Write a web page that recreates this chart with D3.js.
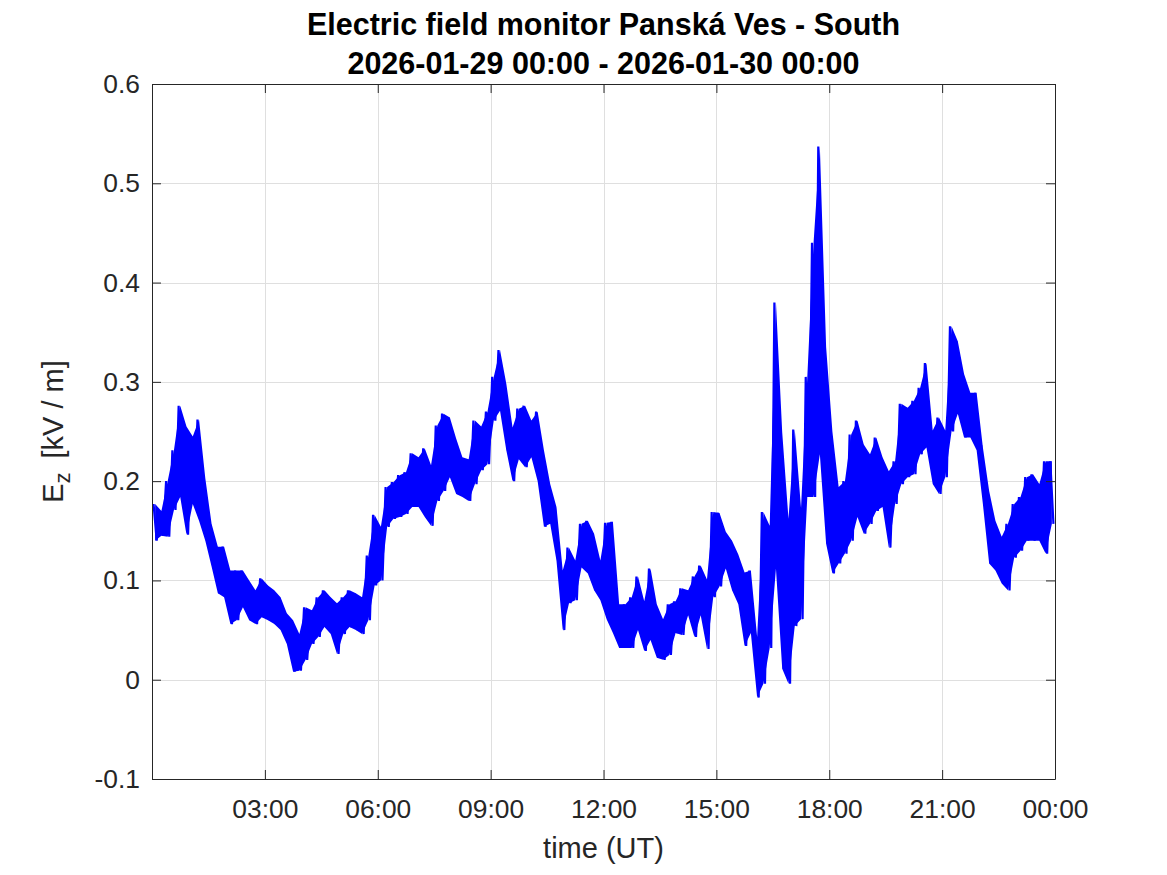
<!DOCTYPE html>
<html><head><meta charset="utf-8">
<script src="https://cdn.jsdelivr.net/npm/d3@7"></script>
<style>
body{margin:0;background:#fff}
svg{display:block}
text{font-family:"Liberation Sans",Arial,Helvetica,sans-serif}
</style>
</head><body>
<svg id="chart" width="1167" height="875"></svg>
<script>
const titleLines = ["Electric field monitor Panská Ves - South", "2026-01-29 00:00 - 2026-01-30 00:00"];
const xLabel = "time (UT)";
const yTicks = [-0.1, 0, 0.1, 0.2, 0.3, 0.4, 0.5, 0.6];
const yTickLabels = ["-0.1", "0", "0.1", "0.2", "0.3", "0.4", "0.5", "0.6"];
const xTickHours = [3, 6, 9, 12, 15, 18, 21, 24];
const xTickLabels = ["03:00", "06:00", "09:00", "12:00", "15:00", "18:00", "21:00", "00:00"];
const binMinutes = 10;
// per 10-minute bin: upper and lower envelope of Ez [kV/m]
const ezHigh = [
0.177,0.170,0.200,0.231,0.276,0.255,0.245,0.262,0.203,0.157,0.134,0.134,0.110,0.110,0.110,0.100,0.090,0.102,0.095,0.090,0.083,0.067,0.060,0.046,
0.073,0.070,0.083,0.090,0.083,0.077,0.083,0.090,0.087,0.083,0.125,0.166,
0.154,0.194,0.199,0.206,0.209,0.228,0.224,0.233,0.216,0.256,0.268,0.264,0.243,0.224,0.222,0.261,0.255,0.270,
0.305,0.332,0.298,0.254,0.273,0.276,0.261,0.270,0.231,0.197,0.174,0.110,0.133,0.120,0.157,0.160,0.147,0.120,
0.158,0.159,0.076,0.076,0.083,0.104,0.079,0.112,0.076,0.061,0.076,0.079,0.092,0.090,0.104,0.115,0.101,0.169,
0.168,0.149,0.140,0.126,0.108,0.110,0.043,0.169,0.155,0.380,0.249,0.162,0.252,0.173,0.305,0.440,0.537,0.335,
0.250,0.194,0.200,0.247,0.261,0.237,0.227,0.244,0.224,0.210,0.220,0.278,0.274,0.281,0.294,0.319,0.251,0.264,
0.251,0.356,0.341,0.308,0.289,0.289,0.234,0.190,0.160,0.144,0.157,0.177,0.184,0.204,0.207,0.197,0.220,0.220
];
const ezLow = [
0.140,0.145,0.144,0.171,0.184,0.146,0.177,0.160,0.140,0.114,0.087,0.083,0.056,0.060,0.073,0.060,0.056,0.063,0.060,0.056,0.050,0.036,0.008,0.009,
0.020,0.036,0.043,0.053,0.046,0.026,0.046,0.053,0.050,0.046,0.060,0.095,
0.100,0.154,0.162,0.164,0.167,0.174,0.174,0.164,0.155,0.180,0.190,0.204,0.187,0.184,0.180,0.197,0.211,0.217,
0.261,0.271,0.231,0.200,0.222,0.214,0.224,0.200,0.154,0.157,0.120,0.050,0.077,0.080,0.113,0.107,0.090,0.080,
0.061,0.047,0.032,0.032,0.032,0.050,0.029,0.040,0.022,0.020,0.025,0.047,0.045,0.065,0.043,0.065,0.031,0.083,
0.094,0.112,0.090,0.076,0.034,0.047,-0.018,-0.004,0.032,0.112,0.011,-0.004,0.054,0.061,0.184,0.184,0.227,0.137,
0.107,0.117,0.127,0.140,0.164,0.147,0.157,0.170,0.174,0.133,0.177,0.197,0.204,0.207,0.227,0.234,0.197,0.187,
0.204,0.250,0.268,0.244,0.244,0.231,0.177,0.117,0.110,0.097,0.090,0.123,0.130,0.140,0.140,0.140,0.127,0.157
];

const svg = d3.select("#chart");
const pLeft = 152, pRight = 1055, pTop = 84, pBottom = 779;
const axisColor = "#262626";

const x = d3.scaleLinear().domain([0, 24 * 60]).range([pLeft, pRight]);
const y = d3.scaleLinear().domain([-0.1, 0.6]).range([pBottom, pTop]);

// grid
const grid = svg.append("g").attr("stroke", "#dfdfdf").attr("stroke-width", 1);
xTickHours.forEach(h => {
  const px = Math.round(x(h * 60)) + 0.5;
  grid.append("line").attr("x1", px).attr("x2", px).attr("y1", pTop).attr("y2", pBottom);
});
yTicks.forEach(v => {
  const py = Math.round(y(v)) + 0.5;
  grid.append("line").attr("x1", pLeft).attr("x2", pRight).attr("y1", py).attr("y2", py);
});

// data
const bins = ezHigh.map((hi, k) => ({ t: k * binMinutes + binMinutes / 2, hi: hi, lo: ezLow[k] }));
const pts = [];
bins.forEach(b => {
  pts.push([b.t - 2.5, b.hi]);
  pts.push([b.t + 2.5, b.lo]);
});
svg.append("defs").append("clipPath").attr("id", "clip")
  .append("rect").attr("x", pLeft).attr("y", pTop).attr("width", pRight - pLeft).attr("height", pBottom - pTop);
const dataG = svg.append("g").attr("clip-path", "url(#clip)");
dataG.append("path")
  .attr("d", d3.area().x(d => x(d.t)).y0(d => y(d.lo)).y1(d => y(d.hi))(bins))
  .attr("fill", "#0000ff").attr("stroke", "none");
dataG.append("path")
  .attr("d", d3.line().x(d => x(d[0])).y(d => y(d[1]))(pts))
  .attr("fill", "none").attr("stroke", "#0000ff").attr("stroke-width", 2.2).attr("stroke-linejoin", "miter");

// axes (box with inward ticks)
const tickLen = 9;
const xBottom = d3.axisBottom(x).tickValues(xTickHours.map(h => h * 60)).tickFormat((d, i) => xTickLabels[i]).tickSizeInner(-tickLen).tickSizeOuter(0).tickPadding(20);
const xTop = d3.axisTop(x).tickValues(xTickHours.map(h => h * 60)).tickFormat("").tickSizeInner(-tickLen).tickSizeOuter(0);
const yLeft = d3.axisLeft(y).tickValues(yTicks).tickFormat((d, i) => yTickLabels[i]).tickSizeInner(-tickLen).tickSizeOuter(0).tickPadding(12);
const yRight = d3.axisRight(y).tickValues(yTicks).tickFormat("").tickSizeInner(-tickLen).tickSizeOuter(0);

function style(g) {
  g.selectAll("path,line").attr("stroke", axisColor).attr("stroke-width", 1);
  g.selectAll("text").attr("fill", axisColor).attr("font-size", 26.4).attr("font-family", '"Liberation Sans",Arial,sans-serif');
}
svg.append("g").attr("transform", `translate(0,${pBottom})`).call(xBottom).call(style);
svg.append("g").attr("transform", `translate(0,${pTop})`).call(xTop).call(style);
svg.append("g").attr("transform", `translate(${pLeft},0)`).call(yLeft).call(style);
svg.append("g").attr("transform", `translate(${pRight},0)`).call(yRight).call(style);

// titles
svg.append("text").attr("x", (pLeft + pRight) / 2).attr("y", 35).attr("text-anchor", "middle")
  .attr("font-weight", "bold").attr("font-size", 30.5).attr("fill", "#000").text(titleLines[0]);
svg.append("text").attr("x", (pLeft + pRight) / 2).attr("y", 74).attr("text-anchor", "middle")
  .attr("font-weight", "bold").attr("font-size", 30.5).attr("fill", "#000").text(titleLines[1]);

svg.append("text").attr("x", (pLeft + pRight) / 2).attr("y", 858).attr("text-anchor", "middle")
  .attr("font-size", 29).attr("fill", axisColor).text(xLabel);

const yl = svg.append("text").attr("transform", `translate(63,${(pTop + pBottom) / 2}) rotate(-90)`)
  .attr("text-anchor", "middle").attr("font-size", 29).attr("fill", axisColor);
yl.append("tspan").text("E");
yl.append("tspan").attr("dy", 7).attr("font-size", 22).text("z");
yl.append("tspan").attr("dy", -7).text("\u2009 [kV / m]");
</script>
</body></html>
